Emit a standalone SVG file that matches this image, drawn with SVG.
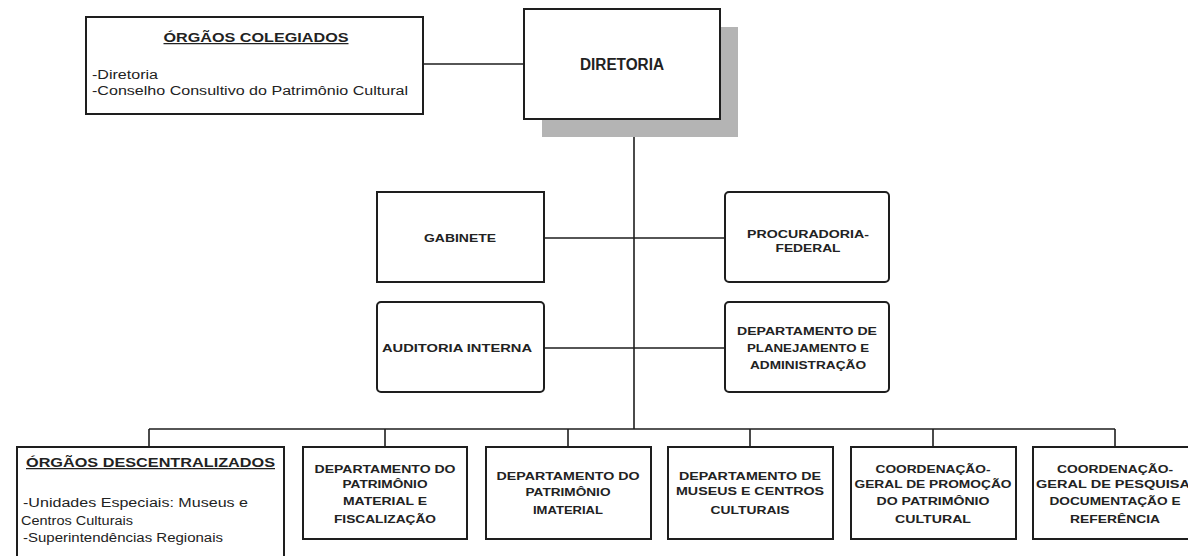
<svg xmlns="http://www.w3.org/2000/svg" width="1188" height="556" viewBox="0 0 1188 556">
<style>
.box{fill:#fff;stroke:#1e1e1e;stroke-width:2}
.shadow{fill:#b4b4b4}
.ln{stroke:#1e1e1e;stroke-width:1.6;fill:none}
.t{font-family:"Liberation Sans",Arial,sans-serif;font-size:11px;font-weight:bold;fill:#222;text-anchor:middle}
.h{font-family:"Liberation Sans",Arial,sans-serif;font-size:12.5px;font-weight:bold;fill:#222;text-anchor:middle;text-decoration:underline}
.b{font-family:"Liberation Sans",Arial,sans-serif;font-size:12.5px;fill:#222}
.big{font-family:"Liberation Sans",Arial,sans-serif;font-size:16px;font-weight:bold;fill:#222;text-anchor:middle}
</style>
<rect width="1188" height="556" fill="#fff"/>
<g id="connectors">
<line class="ln" x1="423" y1="64" x2="524" y2="64"/>
<line class="ln" x1="634" y1="137" x2="634" y2="429"/>
<line class="ln" x1="544" y1="238" x2="725" y2="238"/>
<line class="ln" x1="544" y1="348" x2="725" y2="348"/>
<line class="ln" x1="149" y1="429" x2="1115" y2="429"/>
<line class="ln" x1="149" y1="429" x2="149" y2="447"/>
<line class="ln" x1="385" y1="429" x2="385" y2="447"/>
<line class="ln" x1="568" y1="429" x2="568" y2="447"/>
<line class="ln" x1="750" y1="429" x2="750" y2="447"/>
<line class="ln" x1="933" y1="429" x2="933" y2="447"/>
<line class="ln" x1="1115" y1="429" x2="1115" y2="447"/>
</g>
<g id="orgaos-colegiados">
<rect class="box" x="86" y="17" width="337" height="97"/>
<text class="h" x="256" y="42" textLength="185" lengthAdjust="spacingAndGlyphs">ÓRGÃOS COLEGIADOS</text>
<text class="b" x="92" y="79" textLength="66" lengthAdjust="spacingAndGlyphs">-Diretoria</text>
<text class="b" x="92" y="95" textLength="316" lengthAdjust="spacingAndGlyphs">-Conselho Consultivo do Patrimônio Cultural</text>
</g>
<g id="diretoria">
<rect class="shadow" x="542" y="27" width="196" height="110"/>
<rect class="box" x="524" y="9" width="196" height="110"/>
<text class="big" x="622" y="70" textLength="84" lengthAdjust="spacingAndGlyphs">DIRETORIA</text>
</g>
<g id="gabinete">
<rect class="box" x="377" y="192" width="167" height="90"/>
<text class="t" x="460" y="242" textLength="72" lengthAdjust="spacingAndGlyphs">GABINETE</text>
</g>
<g id="procuradoria">
<rect class="box" x="725" y="192" width="164" height="90" rx="4"/>
<text class="t" x="808" y="238" textLength="122" lengthAdjust="spacingAndGlyphs">PROCURADORIA-</text>
<text class="t" x="808" y="252" textLength="65" lengthAdjust="spacingAndGlyphs">FEDERAL</text>
</g>
<g id="auditoria">
<rect class="box" x="377" y="302" width="167" height="90" rx="4"/>
<text class="t" x="457" y="352" textLength="150" lengthAdjust="spacingAndGlyphs">AUDITORIA INTERNA</text>
</g>
<g id="dpa">
<rect class="box" x="725" y="302" width="164" height="90" rx="4"/>
<text class="t" x="807" y="335" textLength="140" lengthAdjust="spacingAndGlyphs">DEPARTAMENTO DE</text>
<text class="t" x="808" y="352" textLength="122" lengthAdjust="spacingAndGlyphs">PLANEJAMENTO E</text>
<text class="t" x="808" y="369" textLength="116" lengthAdjust="spacingAndGlyphs">ADMINISTRAÇÃO</text>
</g>
<g id="orgaos-descentralizados">
<rect class="box" x="17" y="447" width="267" height="120"/>
<text class="h" x="150.5" y="467" textLength="249" lengthAdjust="spacingAndGlyphs">ÓRGÃOS DESCENTRALIZADOS</text>
<text class="b" x="23" y="507" textLength="225" lengthAdjust="spacingAndGlyphs">-Unidades Especiais: Museus e</text>
<text class="b" x="21" y="525" textLength="112" lengthAdjust="spacingAndGlyphs">Centros Culturais</text>
<text class="b" x="23" y="542" textLength="200" lengthAdjust="spacingAndGlyphs">-Superintendências Regionais</text>
</g>
<g id="dpm">
<rect class="box" x="303" y="447" width="164" height="92"/>
<text class="t" x="385" y="473" textLength="141" lengthAdjust="spacingAndGlyphs">DEPARTAMENTO DO</text>
<text class="t" x="385" y="488" textLength="85" lengthAdjust="spacingAndGlyphs">PATRIMÔNIO</text>
<text class="t" x="385" y="505" textLength="84" lengthAdjust="spacingAndGlyphs">MATERIAL E</text>
<text class="t" x="385" y="523" textLength="102" lengthAdjust="spacingAndGlyphs">FISCALIZAÇÃO</text>
</g>
<g id="dpi">
<rect class="box" x="486" y="447" width="165" height="92"/>
<text class="t" x="568" y="480" textLength="143" lengthAdjust="spacingAndGlyphs">DEPARTAMENTO DO</text>
<text class="t" x="568" y="496" textLength="85" lengthAdjust="spacingAndGlyphs">PATRIMÔNIO</text>
<text class="t" x="568" y="514" textLength="70" lengthAdjust="spacingAndGlyphs">IMATERIAL</text>
</g>
<g id="demu">
<rect class="box" x="668" y="447" width="165" height="92"/>
<text class="t" x="750" y="480" textLength="142" lengthAdjust="spacingAndGlyphs">DEPARTAMENTO DE</text>
<text class="t" x="750" y="495" textLength="148" lengthAdjust="spacingAndGlyphs">MUSEUS E CENTROS</text>
<text class="t" x="750" y="514" textLength="79" lengthAdjust="spacingAndGlyphs">CULTURAIS</text>
</g>
<g id="cgpp">
<rect class="box" x="851" y="447" width="165" height="92"/>
<text class="t" x="933" y="473" textLength="115" lengthAdjust="spacingAndGlyphs">COORDENAÇÃO-</text>
<text class="t" x="933" y="488" textLength="157" lengthAdjust="spacingAndGlyphs">GERAL DE PROMOÇÃO</text>
<text class="t" x="933" y="505" textLength="113" lengthAdjust="spacingAndGlyphs">DO PATRIMÔNIO</text>
<text class="t" x="933" y="523" textLength="76" lengthAdjust="spacingAndGlyphs">CULTURAL</text>
</g>
<g id="cgpdr">
<rect class="box" x="1033" y="447" width="165" height="92"/>
<text class="t" x="1115" y="473" textLength="116" lengthAdjust="spacingAndGlyphs">COORDENAÇÃO-</text>
<text class="t" x="1115" y="488" textLength="158" lengthAdjust="spacingAndGlyphs">GERAL DE PESQUISA,</text>
<text class="t" x="1115" y="505" textLength="131" lengthAdjust="spacingAndGlyphs">DOCUMENTAÇÃO E</text>
<text class="t" x="1115" y="523" textLength="90" lengthAdjust="spacingAndGlyphs">REFERÊNCIA</text>
</g>
</svg>
